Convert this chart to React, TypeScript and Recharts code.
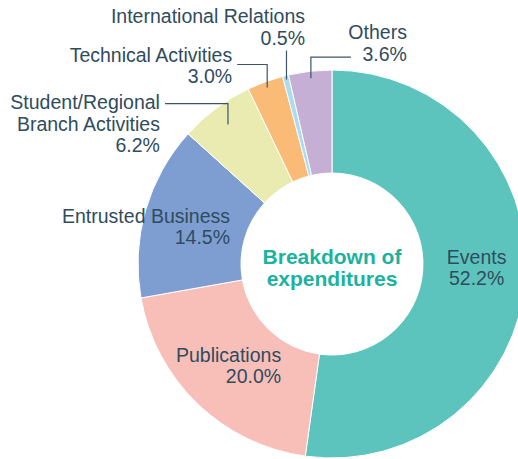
import React from "react";
import { PieChart, Pie, Cell } from "recharts";

const categories = [
  "Events",
  "Publications",
  "Entrusted Business",
  "Student/Regional\nBranch Activities",
  "Technical Activities",
  "International Relations",
  "Others",
];
const shares = [52.2, 20.0, 14.5, 6.2, 3.0, 0.5, 3.6];
const colors = [
  "#5cc4bc",
  "#f8bfb9",
  "#7e9ed1",
  "#e9ebb0",
  "#f9bb76",
  "#acdcf2",
  "#c6afd4",
];

const data = categories.map((name, i) => ({ name, value: shares[i] }));

const RAD = Math.PI / 180;
const TEXT = "#2f4c5e";
const FONT = "'Liberation Sans', Arial, sans-serif";
const LINE_H = 21.5;

// label placement: inside ones sit around the slice centroid, outside ones get an elbow leader
type Inside = { kind: "inside"; anchor: "start" | "middle" | "end"; dx: number; dy: number };
type Outside = {
  kind: "outside";
  r: number;
  rise: number;
  run: number;
  anchor: "start" | "middle" | "end";
  tx: number;
  ty: number;
};
const layout: (Inside | Outside)[] = [
  { kind: "inside", anchor: "middle", dx: 2.5, dy: -6.5 },
  { kind: "inside", anchor: "end", dx: 48, dy: -1 },
  { kind: "inside", anchor: "end", dx: 35, dy: 2 },
  { kind: "outside", r: 174, rise: 21, run: -63, anchor: "end", tx: -5, ty: -1.5 },
  { kind: "outside", r: 188, rise: 23, run: -30, anchor: "end", tx: -5, ty: -10 },
  { kind: "outside", r: 190, rise: 29, run: 0, anchor: "end", tx: 18.5, ty: -34.5 },
  { kind: "outside", r: 187, rise: 21, run: 40, anchor: "end", tx: 56, ty: -25 },
];

const renderLabel = (props: any) => {
  const { cx, cy, midAngle, innerRadius, outerRadius, index, name, value } = props;
  const cfg = layout[index];
  const lines = [...String(name).split("\n"), `${Number(value).toFixed(1)}%`];
  const cos = Math.cos(-midAngle * RAD);
  const sin = Math.sin(-midAngle * RAD);

  if (cfg.kind === "inside") {
    const r = (innerRadius + outerRadius) / 2;
    const x = cx + r * cos + cfg.dx;
    const yc = cy + r * sin + cfg.dy;
    const y0 = yc - ((lines.length - 1) * LINE_H) / 2;
    return (
      <text
        key={`l-${index}`}
        x={x}
        textAnchor={cfg.anchor}
        fill={TEXT}
        fontFamily={FONT}
        fontSize={19.5}
      >
        {lines.map((t, i) => (
          <tspan key={i} x={x} y={y0 + i * LINE_H} dominantBaseline="central">
            {t}
          </tspan>
        ))}
      </text>
    );
  }

  const px = cx + cfg.r * cos;
  const py = cy + cfg.r * sin;
  const ey = py - cfg.rise;
  const ex = px + cfg.run;
  const tx = ex + cfg.tx;
  const ty = ey + cfg.ty;
  return (
    <g key={`l-${index}`}>
      <polyline
        points={`${px},${py} ${px},${ey} ${ex},${ey}`}
        fill="none"
        stroke="#3c5667"
        strokeWidth={1.2}
      />
      <text x={tx} textAnchor={cfg.anchor} fill={TEXT} fontFamily={FONT} fontSize={19.5}>
        {lines.map((t, i) => (
          <tspan key={i} x={tx} y={ty + i * LINE_H} dominantBaseline="central">
            {t}
          </tspan>
        ))}
      </text>
    </g>
  );
};

export default function App() {
  return (
    <div style={{ position: "absolute", left: 0, top: 0, width: 518, height: 459, background: "#fff" }}>
      <PieChart width={518} height={459} margin={{ top: 0, right: 0, bottom: 0, left: 0 }}>
        <Pie
          data={data}
          dataKey="value"
          nameKey="name"
          cx={332}
          cy={264}
          innerRadius={91}
          outerRadius={194}
          startAngle={90}
          endAngle={-270}
          stroke="#ffffff"
          strokeWidth={1}
          label={renderLabel}
          labelLine={false}
          isAnimationActive={false}
        >
          {data.map((d, i) => (
            <Cell key={d.name} fill={colors[i]} />
          ))}
        </Pie>
      </PieChart>
      <div
        style={{
          position: "absolute",
          left: 232,
          top: 246,
          width: 200,
          textAlign: "center",
          color: "#1bb39f",
          fontFamily: FONT,
          fontWeight: 700,
          fontSize: 21,
          lineHeight: "22px",
        }}
      >
        Breakdown of
        <br />
        expenditures
      </div>
    </div>
  );
}
